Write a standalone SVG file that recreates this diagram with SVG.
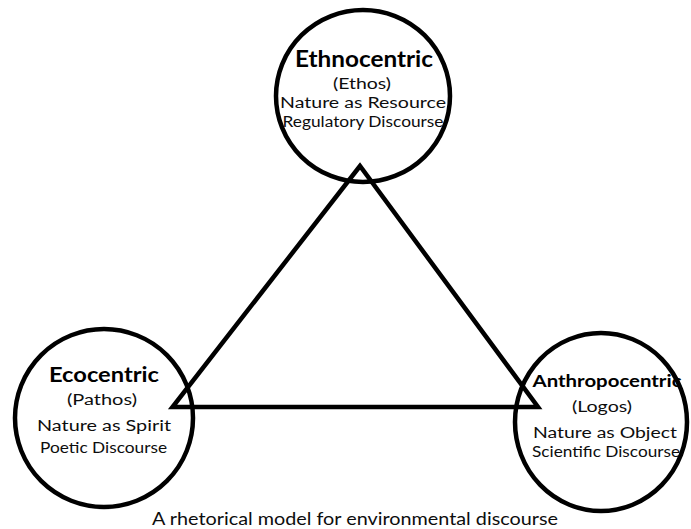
<svg xmlns="http://www.w3.org/2000/svg" width="691" height="529" viewBox="0 0 691 529">
  <style>
    .ring { fill: none; stroke: #000; stroke-width: 4.5; }
    .edge { fill: none; stroke: #000; stroke-width: 4.5; stroke-linejoin: miter; }
    text { font-family: Lato, "Liberation Sans", sans-serif; fill: #0d0d0d; text-anchor: middle; }
    .title { font-weight: bold; fill: #000; }
    .sub { font-size: 15.5px; }
    .caption { font-size: 18px; }
  </style>

  <!-- triangle linking the three positions -->
  <g id="connectors">
    <polygon class="edge" points="360,166 172.5,407 538,407"/>
  </g>

  <g id="ethnocentric">
    <ellipse class="ring" cx="363" cy="96" rx="87" ry="86"/>
    <text class="title" x="364" y="67" font-size="22" textLength="138" lengthAdjust="spacingAndGlyphs">Ethnocentric</text>
    <text class="sub" x="362" y="89" textLength="58" lengthAdjust="spacingAndGlyphs">(Ethos)</text>
    <text class="sub" x="363" y="108" textLength="166" lengthAdjust="spacingAndGlyphs">Nature as Resource</text>
    <text class="sub" x="363" y="127" textLength="161" lengthAdjust="spacingAndGlyphs">Regulatory Discourse</text>
  </g>

  <g id="ecocentric">
    <ellipse class="ring" cx="104" cy="418" rx="89" ry="89"/>
    <text class="title" x="104" y="381.5" font-size="20" textLength="110" lengthAdjust="spacingAndGlyphs">Ecocentric</text>
    <text class="sub" x="102" y="405" textLength="70" lengthAdjust="spacingAndGlyphs">(Pathos)</text>
    <text class="sub" x="104" y="430.5" textLength="134" lengthAdjust="spacingAndGlyphs">Nature as Spirit</text>
    <text class="sub" x="103.5" y="452.5" textLength="127" lengthAdjust="spacingAndGlyphs">Poetic Discourse</text>
  </g>

  <g id="anthropocentric">
    <ellipse class="ring" cx="601" cy="422" rx="86" ry="89"/>
    <text class="title" x="607" y="386.5" font-size="17" textLength="149" lengthAdjust="spacingAndGlyphs">Anthropocentric</text>
    <text class="sub" x="602" y="411.5" textLength="60" lengthAdjust="spacingAndGlyphs">(Logos)</text>
    <text class="sub" x="605" y="437.5" textLength="144" lengthAdjust="spacingAndGlyphs">Nature as Object</text>
    <text class="sub" x="606" y="456.5" textLength="148" lengthAdjust="spacingAndGlyphs">Scientific Discourse</text>
  </g>

  <text class="caption" x="355" y="525" textLength="406" lengthAdjust="spacingAndGlyphs">A rhetorical model for environmental discourse</text>
</svg>
